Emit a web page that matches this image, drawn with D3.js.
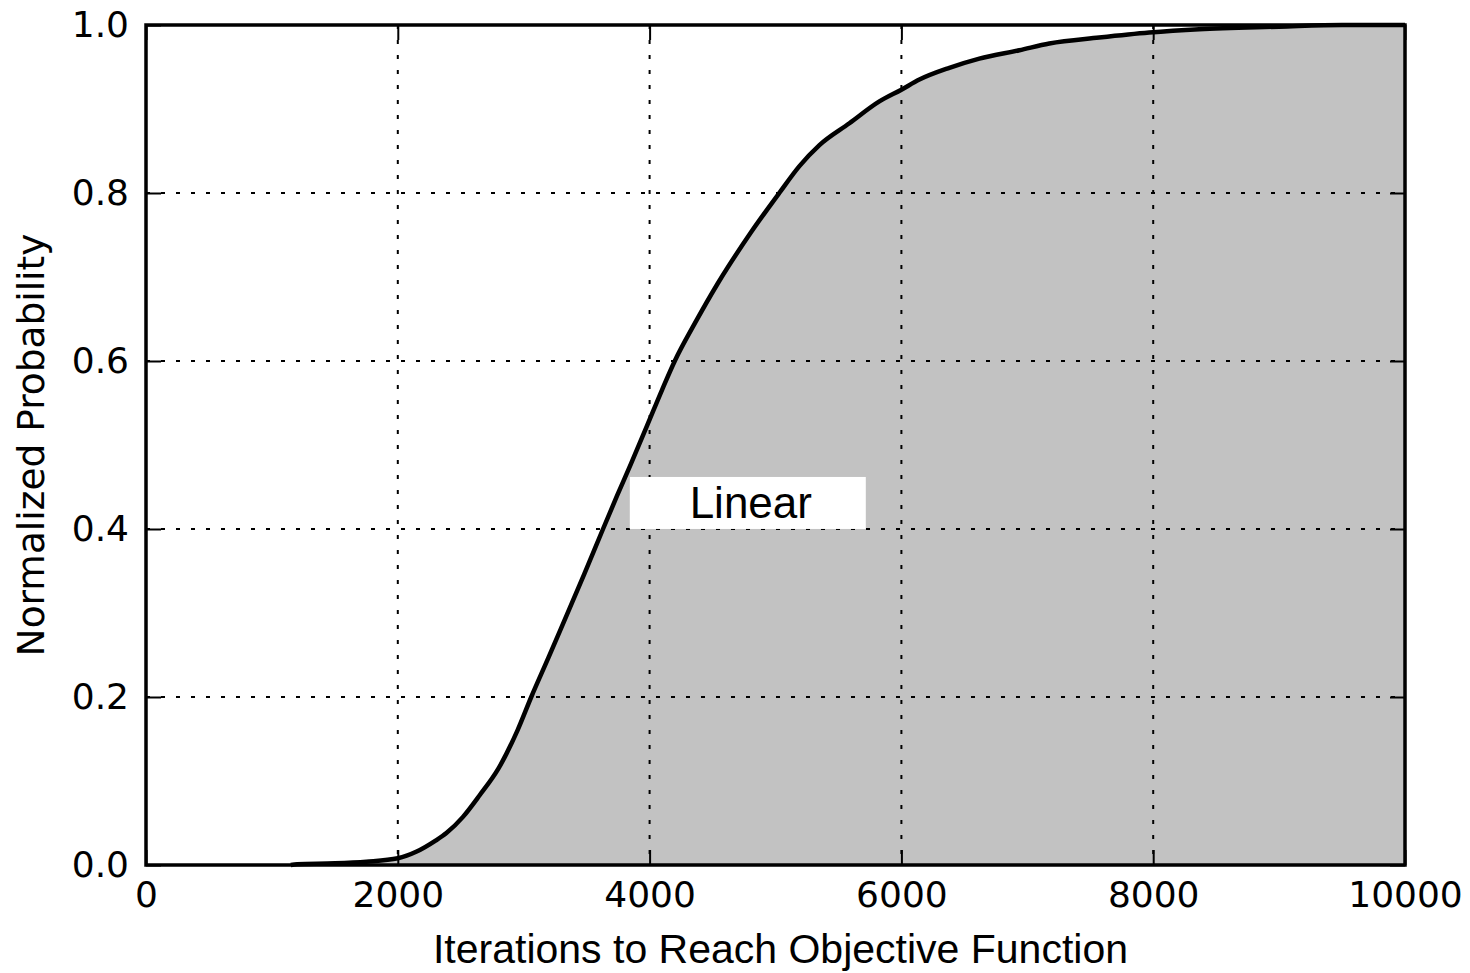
<!DOCTYPE html>
<html>
<head>
<meta charset="utf-8">
<script src="https://cdn.jsdelivr.net/npm/d3@7"></script>
<style>
  html, body { margin: 0; padding: 0; background: #fff; }
  svg { display: block; }
</style>
</head>
<body>
<svg id="chart" width="1470" height="973"></svg>
<script>
// ---- data ----
const iterations = [1150, 1200, 1500, 1750, 2000, 2150, 2300, 2386, 2516, 2650, 2800, 2950,
  3060, 3200, 3340, 3480, 3630, 3740, 3850, 3980, 4100, 4200, 4360, 4540, 4800, 5030,
  5190, 5349, 5587, 5825, 6000, 6143, 6381, 6619, 6937, 7175, 7571, 7968, 8365, 9000, 9500, 10000];
const probability = [0.0, 0.001, 0.002, 0.004, 0.008, 0.016, 0.029, 0.038, 0.057, 0.083, 0.115, 0.160,
  0.200, 0.248, 0.297, 0.346, 0.400, 0.439, 0.477, 0.523, 0.566, 0.600, 0.645, 0.692, 0.752, 0.800,
  0.832, 0.857, 0.883, 0.909, 0.923, 0.935, 0.949, 0.960, 0.970, 0.978, 0.985, 0.991, 0.995, 0.998, 1.0, 1.0];
const xTicks = [0, 2000, 4000, 6000, 8000, 10000];
const xTickLabels = ["0", "2000", "4000", "6000", "8000", "10000"];
const yTicks = [0, 0.2, 0.4, 0.6, 0.8, 1.0];
const yTickLabels = ["0.0", "0.2", "0.4", "0.6", "0.8", "1.0"];
const xLabel = "Iterations to Reach Objective Function";
const yLabel = "Normalized Probability";
const annotationText = "Linear";
const annotationPos = [4780, 0.431];

// ---- layout ----
const svg = d3.select("#chart");
const pL = 146, pR = 1405, pT = 25, pB = 865;
const x = d3.scaleLinear().domain([0, 10000]).range([pL, pR]);
const y = d3.scaleLinear().domain([0, 1]).range([pB, pT]);

const pts = iterations.map((v, i) => [v, probability[i]]);

// fill
svg.append("path")
  .datum(pts)
  .attr("d", d3.area().x(d => x(d[0])).y0(y(0)).y1(d => y(d[1])).curve(d3.curveMonotoneX))
  .attr("fill", "#c2c2c2")
  .attr("stroke", "none");

// grid
const grid = svg.append("g").attr("stroke", "#000").attr("stroke-width", 2)
  .attr("stroke-dasharray", "4 11");
grid.selectAll("line.gx").data(xTicks.slice(1, -1)).join("line").attr("class", "gx")
  .attr("x1", d => x(d)).attr("x2", d => x(d)).attr("y1", pT).attr("y2", pB);
grid.selectAll("line.gy").data(yTicks.slice(1, -1)).join("line").attr("class", "gy")
  .attr("y1", d => y(d)).attr("y2", d => y(d)).attr("x1", pL).attr("x2", pR);

// curve
svg.append("path")
  .datum(pts)
  .attr("d", d3.line().x(d => x(d[0])).y(d => y(d[1])).curve(d3.curveMonotoneX))
  .attr("fill", "none")
  .attr("stroke", "#000")
  .attr("stroke-width", 4.5)
  .attr("stroke-linejoin", "round");

// axes
function styleAxis(g) {
  g.select(".domain").remove();
  g.selectAll(".tick line").attr("stroke", "#000").attr("stroke-width", 2);
  g.selectAll(".tick text").attr("fill", "#000")
    .attr("font-family", "'DejaVu Sans', sans-serif").attr("font-size", 36);
}
const xAxis = svg.append("g").attr("transform", `translate(0,${pB})`)
  .call(d3.axisBottom(x).tickValues(xTicks).tickFormat((d, i) => xTickLabels[i])
    .tickSizeInner(-15).tickSizeOuter(0).tickPadding(16));
styleAxis(xAxis);
const yAxis = svg.append("g").attr("transform", `translate(${pL},0)`)
  .call(d3.axisLeft(y).tickValues(yTicks).tickFormat((d, i) => yTickLabels[i])
    .tickSizeInner(-15).tickSizeOuter(0).tickPadding(17));
styleAxis(yAxis);
const xTop = svg.append("g").attr("transform", `translate(0,${pT})`)
  .call(d3.axisTop(x).tickValues(xTicks).tickFormat("").tickSizeInner(-15).tickSizeOuter(0));
styleAxis(xTop);
const yRight = svg.append("g").attr("transform", `translate(${pR},0)`)
  .call(d3.axisRight(y).tickValues(yTicks).tickFormat("").tickSizeInner(-15).tickSizeOuter(0));
styleAxis(yRight);

// frame
svg.append("rect")
  .attr("x", pL).attr("y", pT).attr("width", pR - pL).attr("height", pB - pT)
  .attr("fill", "none").attr("stroke", "#000").attr("stroke-width", 3.5);

// annotation box
const ax = x(annotationPos[0]), ay = y(annotationPos[1]);
svg.append("rect")
  .attr("x", ax - 118).attr("y", ay - 26).attr("width", 236).attr("height", 52)
  .attr("fill", "#fff");
svg.append("text")
  .attr("x", ax + 3).attr("y", ay + 15)
  .attr("text-anchor", "middle")
  .attr("font-family", "'Liberation Sans', Arial, sans-serif")
  .attr("font-size", 44)
  .attr("fill", "#000")
  .text(annotationText);

// axis labels
svg.append("text")
  .attr("x", (pL + pR) / 2 + 5).attr("y", 963)
  .attr("text-anchor", "middle")
  .attr("font-family", "'Liberation Sans', Arial, sans-serif")
  .attr("font-size", 41)
  .attr("fill", "#000")
  .text(xLabel);
svg.append("text")
  .attr("transform", `translate(44,${(pT + pB) / 2}) rotate(-90)`)
  .attr("text-anchor", "middle")
  .attr("font-family", "'DejaVu Sans', sans-serif")
  .attr("font-size", 37.5)
  .attr("fill", "#000")
  .text(yLabel);
</script>
</body>
</html>
